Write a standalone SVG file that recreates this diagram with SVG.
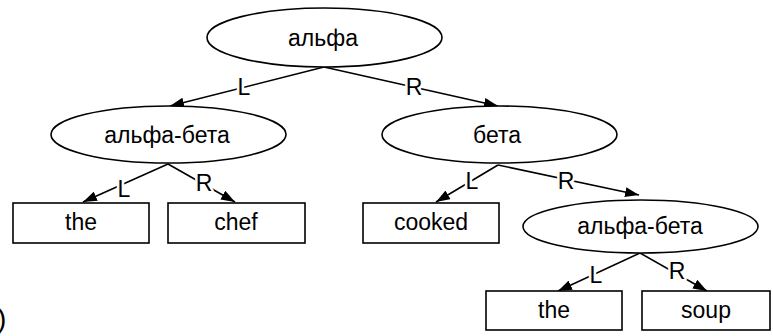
<svg xmlns="http://www.w3.org/2000/svg" width="773" height="336" viewBox="0 0 773 336">
  <defs>
    <marker id="arrow" markerUnits="userSpaceOnUse" markerWidth="14" markerHeight="10" refX="14" refY="5" orient="auto">
      <path d="M0,0 L14,5 L0,10 z" fill="#000"/>
    </marker>
  </defs>
  <style>
    .node { fill: #fff; stroke: #000; stroke-width: 1.6; }
    .txt { font-family: "Liberation Sans", Arial, sans-serif; font-size: 23px; fill: #000; text-anchor: middle; }
    .edge { stroke: #000; stroke-width: 1.6; fill: none; marker-end: url(#arrow); }
    .lbl { font-family: "Liberation Sans", Arial, sans-serif; font-size: 23px; fill: #000; text-anchor: middle; stroke: #fff; stroke-width: 5; paint-order: stroke; stroke-linejoin: round; }
  </style>

  <rect width="773" height="336" fill="#fff"/>

  <!-- connectors with their L/R labels -->
  <g id="edges">
    <line class="edge" x1="324" y1="67" x2="170" y2="106"/>
    <line class="edge" x1="324" y1="67" x2="498" y2="106"/>
    <line class="edge" x1="168" y1="164" x2="83" y2="202"/>
    <line class="edge" x1="168" y1="164" x2="235" y2="202"/>
    <line class="edge" x1="498" y1="165" x2="436" y2="202"/>
    <line class="edge" x1="498" y1="165" x2="639" y2="195"/>
    <line class="edge" x1="640" y1="253" x2="558" y2="291"/>
    <line class="edge" x1="640" y1="253" x2="707" y2="291"/>
    <text class="lbl" x="244" y="95">L</text>
    <text class="lbl" x="414" y="95">R</text>
    <text class="lbl" x="124" y="197">L</text>
    <text class="lbl" x="204" y="191">R</text>
    <text class="lbl" x="472" y="189">L</text>
    <text class="lbl" x="566" y="189">R</text>
    <text class="lbl" x="596" y="283">L</text>
    <text class="lbl" x="677" y="279">R</text>
  </g>

  <g id="root">
    <ellipse class="node" cx="324.5" cy="37.5" rx="117.5" ry="29.5"/>
    <text class="txt" x="323" y="46">альфа</text>
  </g>
  <g id="left">
    <ellipse class="node" cx="168.5" cy="134.5" rx="117.5" ry="28.5"/>
    <text class="txt" x="167" y="143">альфа-бета</text>
  </g>
  <g id="right">
    <ellipse class="node" cx="499.5" cy="134.5" rx="117.5" ry="28.5"/>
    <text class="txt" x="497" y="143">бета</text>
  </g>
  <g id="right-right">
    <ellipse class="node" cx="640.5" cy="226.5" rx="117.5" ry="26.5"/>
    <text class="txt" x="640" y="234">альфа-бета</text>
  </g>

  <g id="leaf-the-1">
    <rect class="node" x="13" y="203" width="136" height="40"/>
    <text class="txt" x="81" y="230">the</text>
  </g>
  <g id="leaf-chef">
    <rect class="node" x="168" y="203" width="137" height="40"/>
    <text class="txt" x="236" y="230">chef</text>
  </g>
  <g id="leaf-cooked">
    <rect class="node" x="363" y="203" width="136" height="40"/>
    <text class="txt" x="431" y="230">cooked</text>
  </g>
  <g id="leaf-the-2">
    <rect class="node" x="486" y="291" width="136" height="39"/>
    <text class="txt" x="554" y="318">the</text>
  </g>
  <g id="leaf-soup">
    <rect class="node" x="642" y="291" width="128" height="39"/>
    <text class="txt" x="706" y="318">soup</text>
  </g>

  <!-- closing parenthesis of the panel caption at the left edge -->
  <text x="-3" y="328" font-family="Liberation Sans, Arial, sans-serif" font-size="28" fill="#000">)</text>
</svg>
